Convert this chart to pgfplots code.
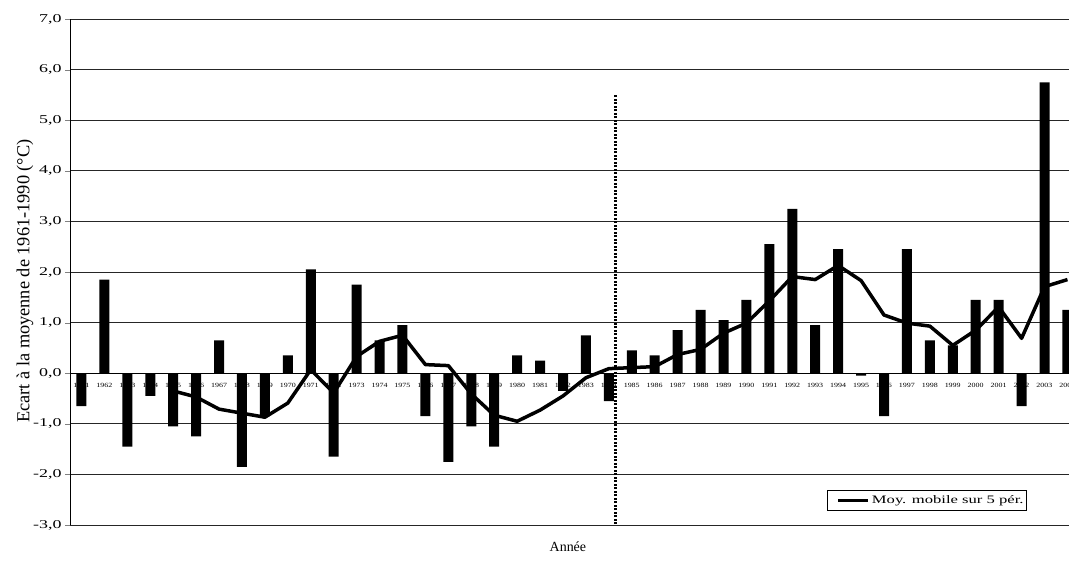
\documentclass[border=0pt]{standalone}
\usepackage{fontspec}
\setmainfont{Liberation Serif}
\newfontfamily\tickfont{Liberation Serif}[FakeStretch=1.5]
\newfontfamily\yearfont{Liberation Serif}[FakeStretch=1.25]
\newfontfamily\legfont{Liberation Serif}[FakeStretch=1.45]
\usepackage{pgfplots}
\usepackage{pgfplotstable}
\pgfplotsset{compat=1.18}

\pgfplotstableread{
year val
1961 -0.65
1962 1.85
1963 -1.45
1964 -0.45
1965 -1.05
1966 -1.25
1967 0.65
1968 -1.85
1969 -0.85
1970 0.35
1971 2.05
1972 -1.65
1973 1.75
1974 0.65
1975 0.95
1976 -0.85
1977 -1.75
1978 -1.05
1979 -1.45
1980 0.35
1981 0.25
1982 -0.35
1983 0.75
1984 -0.55
1985 0.45
1986 0.35
1987 0.85
1988 1.25
1989 1.05
1990 1.45
1991 2.55
1992 3.25
1993 0.95
1994 2.45
1995 -0.05
1996 -0.85
1997 2.45
1998 0.65
1999 0.55
2000 1.45
2001 1.45
2002 -0.65
2003 5.75
2004 1.25
}\bars

\pgfplotstableread{
year ma
1965 -0.35
1966 -0.47
1967 -0.71
1968 -0.79
1969 -0.87
1970 -0.59
1971 0.07
1972 -0.39
1973 0.33
1974 0.63
1975 0.75
1976 0.17
1977 0.15
1978 -0.41
1979 -0.83
1980 -0.95
1981 -0.73
1982 -0.45
1983 -0.09
1984 0.09
1985 0.11
1986 0.13
1987 0.37
1988 0.47
1989 0.79
1990 0.99
1991 1.43
1992 1.91
1993 1.85
1994 2.13
1995 1.83
1996 1.15
1997 0.99
1998 0.93
1999 0.55
2000 0.85
2001 1.31
2002 0.69
2003 1.71
2004 1.85
}\mavg

\begin{document}
\begin{tikzpicture}
\begin{axis}[
  set layers,
  scale only axis,
  width=1009bp, height=506bp,
  xmin=1960.5, xmax=2004.5, ymin=-3, ymax=7,
  axis x line=middle, axis y line=left,
  axis line style={-, black, line width=0.8bp},
  xtick={1961,...,2004},
  minor x tick num=1,
  major x tick style={draw=none},
  minor x tick style={black, line width=0.7bp},
  xtick align=center, minor tick length=6bp,
  ytick={-3,...,7},
  ytick align=outside, major tick length=5bp,
  ymajorgrids, grid style={black!85, line width=0.7bp},
  /pgf/number format/assume math mode=true,
  xticklabel style={font=\yearfont\fontsize{6.4}{7}\selectfont, /pgf/number format/1000 sep={}, anchor=north, inner sep=0pt, yshift=-7bp},
  yticklabel style={font=\tickfont\fontsize{12}{14}\selectfont, /pgf/number format/.cd, fixed, fixed zerofill, precision=1, use comma},
  every axis y label/.style={at={(axis description cs:-0.0446,0.482)}, rotate=90, anchor=center},
  every axis x label/.style={at={(axis description cs:0.4935,0)}, anchor=center, yshift=-22bp},
  ylabel={Ecart à la moyenne de 1961-1990 (°C)},
  ylabel style={font=\fontsize{18.4}{20}\selectfont},
  xlabel={Année},
  xlabel style={font=\fontsize{14}{16}\selectfont},
  legend style={at={(axis description cs:0.9485,0.0277)}, anchor=south east, draw=black, line width=0.8bp, font=\legfont\fontsize{11.5}{13}\selectfont, inner xsep=1bp, inner ysep=3.5bp},
  legend image code/.code={\path[draw=none] (0bp,0bp) -- (8bp,0bp); \draw[solid, line width=3.5bp] (10bp,0bp) -- (40bp,0bp);},
]
\addplot[forget plot, ybar, bar width=10bp, fill=black, draw=none] table[x=year, y=val] {\bars};
\addplot[black, line width=3.5bp, line join=round] table[x=year, y=ma] {\mavg};
\addlegendentry{Moy. mobile sur 5 pér.}
\addplot[forget plot, black, line width=2.5bp, dash pattern=on 2bp off 1.5bp] coordinates {(1984.3,-3.05) (1984.3,5.5)};
\coordinate (sw) at (rel axis cs:0,0);
\end{axis}
\pgfresetboundingbox
\path[use as bounding box] ([shift={(-70bp,-36bp)}]sw) rectangle ([shift={(999bp,525bp)}]sw);
\end{tikzpicture}
\end{document}
